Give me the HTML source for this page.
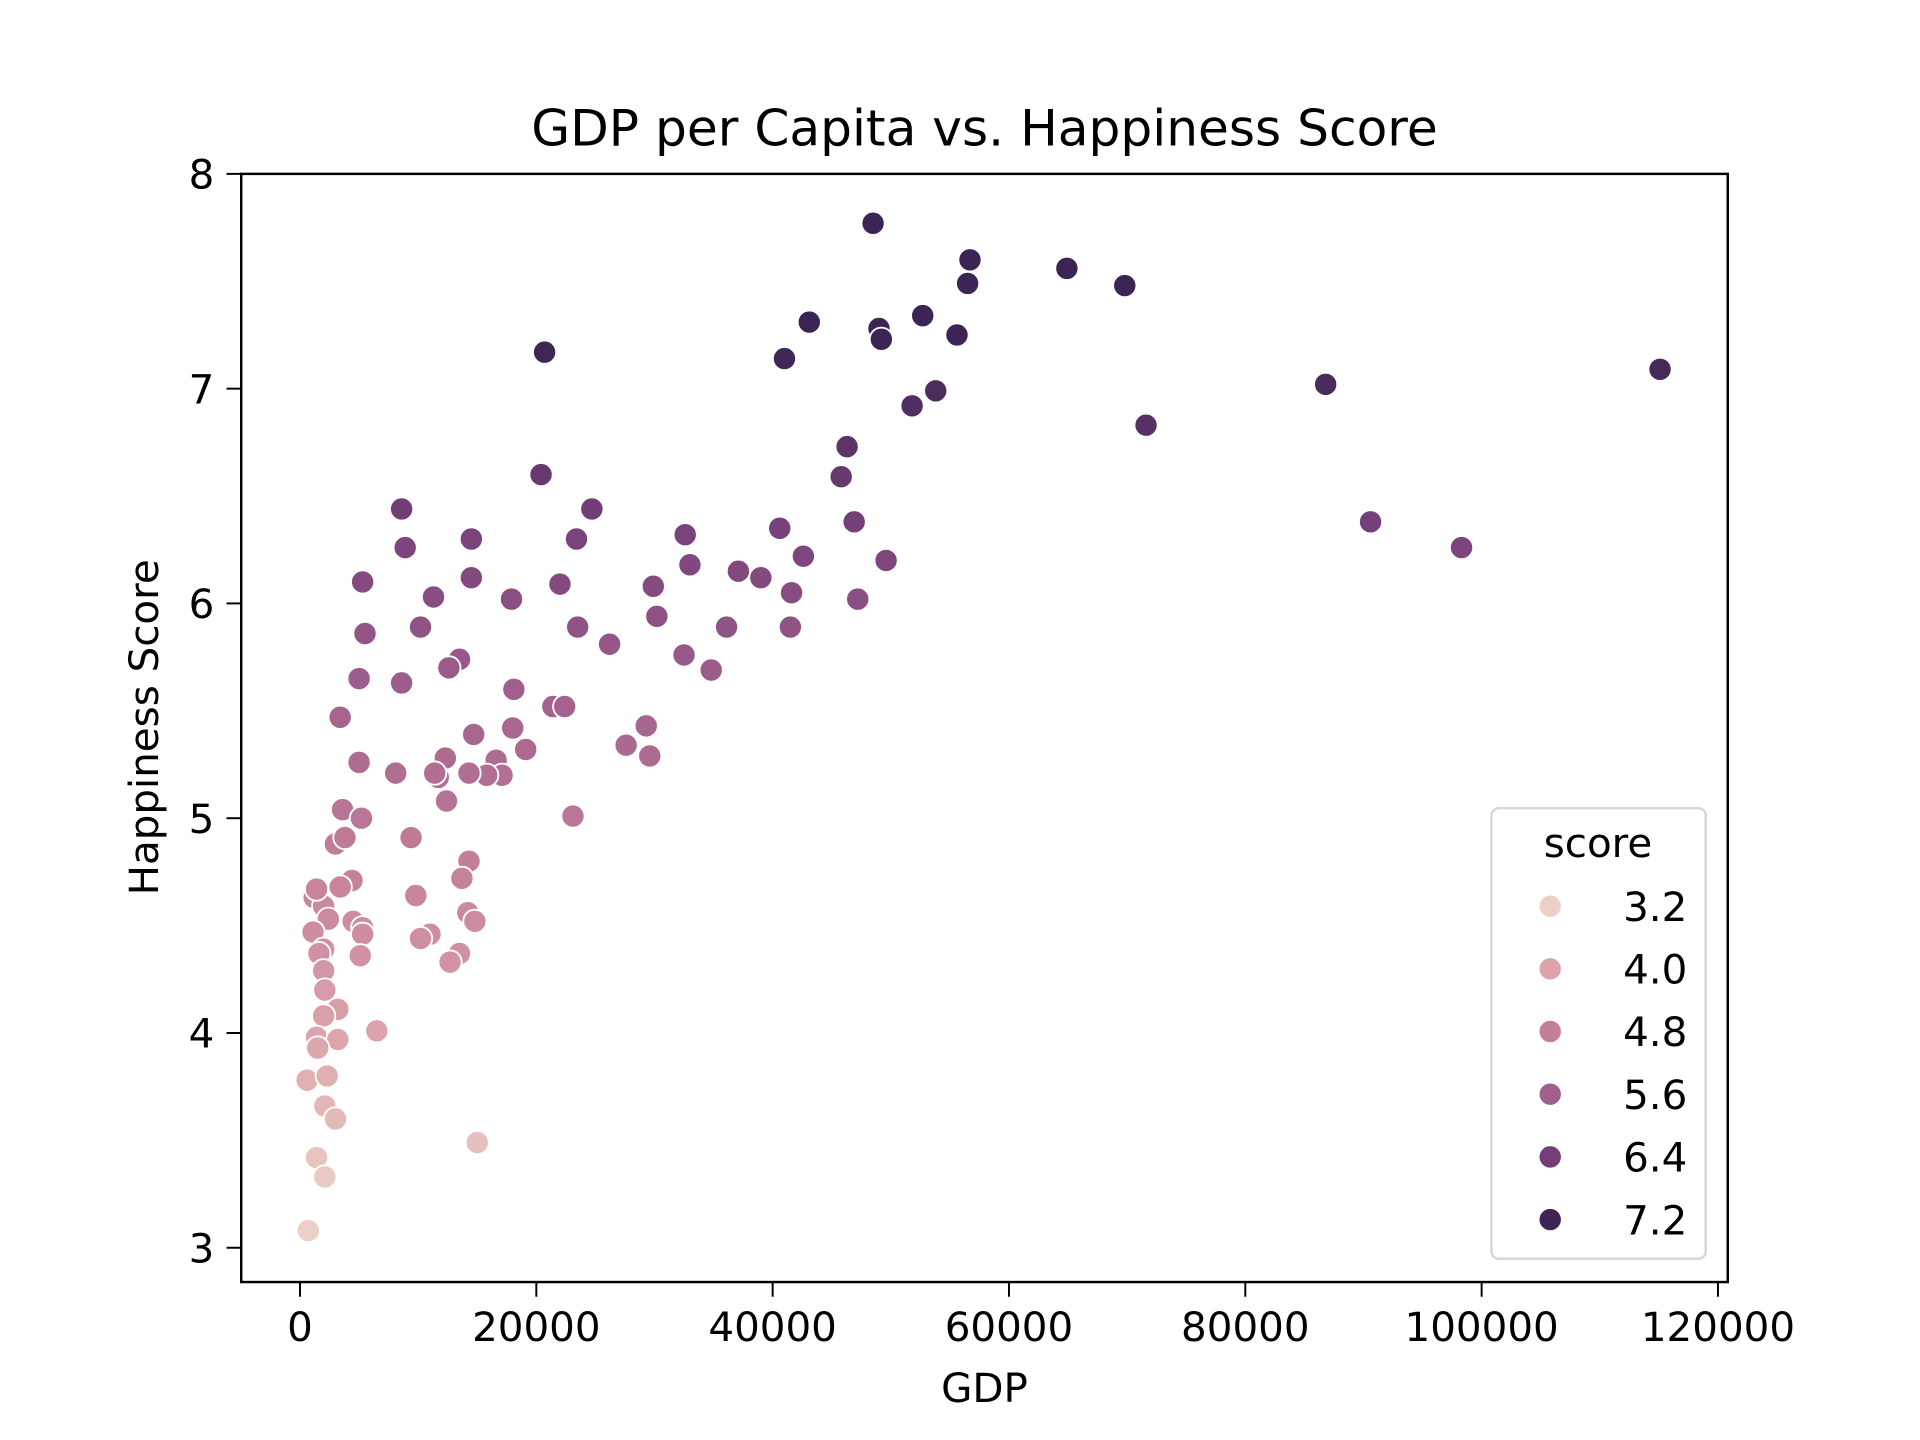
<!DOCTYPE html>
<html><head><meta charset="utf-8"><style>
html,body{margin:0;padding:0;background:#fff;}
svg{display:block;font-family:"DejaVu Sans","Liberation Sans",sans-serif;}
</style></head><body>
<svg id="chart" width="1920" height="1440" viewBox="0 0 1568 1176" xmlns="http://www.w3.org/2000/svg">
<rect width="1568" height="1176" fill="#fff"/>
<text x="804" y="119" font-size="41" text-anchor="middle">GDP per Capita vs. Happiness Score</text>
<g id="points"></g>
<rect x="197" y="142" width="1214" height="905" fill="none" stroke="#000" stroke-width="2"/>
<g id="xticks"></g>
<g id="yticks"></g>
<text x="804" y="1145" font-size="33" text-anchor="middle">GDP</text>
<text transform="translate(129,594) rotate(-90)" font-size="33" text-anchor="middle">Happiness Score</text>
<g id="legend">
<rect x="1218" y="660" width="175" height="368" rx="6" fill="#fff" fill-opacity="0.8" stroke="#d6d6d6" stroke-width="2"/>
<text x="1305" y="700" font-size="33" text-anchor="middle">score</text>
</g>
</svg>
<script>
const gdp = [48500,56700,64900,56500,69800,43100,52700,49000,49200,55600,20700,41000,115100,86800,53800,51800,71600,46300,20400,45800,8600,24700,46900,90600,40600,32600,14500,23400,8900,98300,42600,49600,33000,37100,39000,14500,22000,5300,29900,41600,11300,17900,47200,30200,23500,10200,36100,41500,5500,26200,32500,13500,12600,34800,5000,8600,18100,3400,29300,21400,22400,18000,14700,27600,19100,29600,12300,16600,5000,17100,15800,14300,8100,11700,11400,12400,3600,5200,23100,3000,3800,9400,14300,4400,13700,3400,9800,1200,2000,1400,14200,2400,14800,4500,5300,5300,1100,11000,10200,2000,1600,13500,5100,12700,2000,2100,3200,2000,6500,1400,3200,1500,600,2300,2100,3000,15000,1400,2100,700];
const score = [7.77,7.60,7.56,7.49,7.48,7.31,7.34,7.28,7.23,7.25,7.17,7.14,7.09,7.02,6.99,6.92,6.83,6.73,6.60,6.59,6.44,6.44,6.38,6.38,6.35,6.32,6.30,6.30,6.26,6.26,6.22,6.20,6.18,6.15,6.12,6.12,6.09,6.10,6.08,6.05,6.03,6.02,6.02,5.94,5.89,5.89,5.89,5.89,5.86,5.81,5.76,5.74,5.70,5.69,5.65,5.63,5.60,5.47,5.43,5.52,5.52,5.42,5.39,5.34,5.32,5.29,5.28,5.27,5.26,5.20,5.20,5.21,5.21,5.19,5.21,5.08,5.04,5.00,5.01,4.88,4.91,4.91,4.80,4.71,4.72,4.68,4.64,4.63,4.59,4.67,4.56,4.53,4.52,4.52,4.49,4.46,4.47,4.46,4.44,4.39,4.37,4.37,4.36,4.33,4.29,4.20,4.11,4.08,4.01,3.98,3.97,3.93,3.78,3.80,3.66,3.60,3.49,3.42,3.33,3.08];
const xTicks = [0,20000,40000,60000,80000,100000,120000];
const yTicks = [3,4,5,6,7,8];
const legendValues = [3.2,4.0,4.8,5.6,6.4,7.2];
const legendLabels = ["3.2","4.0","4.8","5.6","6.4","7.2"];
const stops = ["#ecd0c8","#dca4aa","#c37e99","#a05f8d","#743f78","#3c2554"];

const NS="http://www.w3.org/2000/svg";
const X = v => 245 + v*(1403-245)/120000;
const Y = v => 1019 - (v-3)*(1019-142)/5;
function hex(c){return [1,3,5].map(i=>parseInt(c.substr(i,2),16));}
function color(v){
  let t=(v-3.2)/0.8; t=Math.max(0,Math.min(5,t));
  const i=Math.min(4,Math.floor(t)), f=t-i;
  const a=hex(stops[i]), b=hex(stops[i+1]);
  return "rgb("+a.map((x,k)=>Math.round(x+(b[k]-x)*f)).join(",")+")";
}
function mk(tag,attrs,parent){const e=document.createElementNS(NS,tag);for(const k in attrs)e.setAttribute(k,attrs[k]);parent.appendChild(e);return e;}

const pg=document.getElementById("points");
gdp.forEach((g,i)=>{
  const c=mk("circle",{cx:X(g),cy:Y(score[i]),r:9.5,fill:color(score[i]),stroke:"#fff","stroke-width":1.5},pg);
  
  
});
const xg=document.getElementById("xticks");
xTicks.forEach(v=>{
  const l=mk("line",{x1:X(v),x2:X(v),y1:1047,y2:1059,stroke:"#000","stroke-width":1.6},xg);
  
  
  const t=mk("text",{x:X(v),y:1095,"font-size":33,"text-anchor":"middle"},xg);
  t.textContent=String(v);
  
  
});
const yg=document.getElementById("yticks");
yTicks.forEach(v=>{
  const l=mk("line",{x1:185,x2:197,y1:Y(v),y2:Y(v),stroke:"#000","stroke-width":1.6},yg);
  
  
  const t=mk("text",{x:175,y:Y(v)+12,"font-size":33,"text-anchor":"end"},yg);
  t.textContent=String(v);
  
  
});
const lg=document.getElementById("legend");
legendValues.forEach((v,i)=>{
  const y=740+i*51.2;
  const c=mk("circle",{cx:1266,cy:y,r:9.5,fill:color(v),stroke:"#fff","stroke-width":1.5},lg);
  
  
  const t=mk("text",{x:1378,y:y+12,"font-size":33,"text-anchor":"end"},lg);
  t.textContent=legendLabels[i];
  
  
});
</script>
</body></html>
